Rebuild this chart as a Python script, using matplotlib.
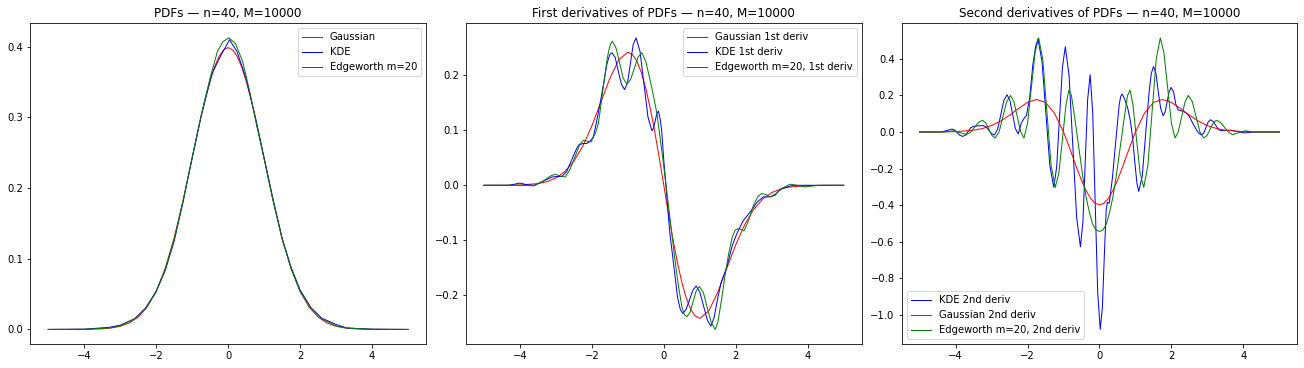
import matplotlib.pyplot as plt

# values
# --- PDFs ---
gauss_x = [-5, -4.5, -4, -3.5, -3.25, -3, -2.75, -2.5, -2.25, -2, -1.75, -1.5, -1.25, -1,
           -0.875, -0.75, -0.625, -0.5, -0.375, -0.25, -0.125, 0,
           0.125, 0.25, 0.375, 0.5, 0.625, 0.75, 0.875, 1,
           1.25, 1.5, 1.75, 2, 2.25, 2.5, 2.75, 3, 3.25, 3.5, 4, 4.5, 5]
gauss_pdf = [0.0, 0.00002, 0.00013, 0.00087, 0.00203, 0.00443, 0.00909, 0.01753, 0.03174, 0.05399,
             0.08628, 0.12952, 0.18265, 0.24197, 0.2720, 0.30114, 0.3282, 0.35207, 0.3718, 0.38667,
             0.3958, 0.39894, 0.3958, 0.38667, 0.3718, 0.35207, 0.3282, 0.30114, 0.2720, 0.24197,
             0.18265, 0.12952, 0.08628, 0.05399, 0.03174, 0.01753, 0.00909, 0.00443, 0.00203,
             0.00087, 0.00013, 0.00002, 0.0]

kde_x = [-5, -4, -3.3, -3.0, -2.6, -2.3, -2.0, -1.75, -1.5, -1.25, -1.0, -0.75, -0.45, -0.2,
         0.04, 0.25, 0.5, 0.75, 1.0, 1.25, 1.5, 1.75, 2.0, 2.3, 2.6, 3.0, 3.3, 4, 5]
kde_pdf = [0.0, 0.0003, 0.003, 0.006, 0.015, 0.030, 0.054, 0.083, 0.125, 0.181, 0.243, 0.302,
           0.362, 0.388, 0.410, 0.393, 0.355, 0.302, 0.243, 0.184, 0.129, 0.088, 0.056, 0.031,
           0.016, 0.007, 0.002, 0.0003, 0.0]

edge_x = [-5, -4, -3.3, -3.0, -2.6, -2.3, -2.0, -1.75, -1.5, -1.25, -1.0, -0.75, -0.5, -0.3,
          -0.15, 0.02, 0.2, 0.4, 0.6, 0.8, 1.0, 1.25, 1.5, 1.75, 2.0, 2.3, 2.6, 3.0, 3.3, 4, 5]
edge_pdf = [0.0, 0.0002, 0.002, 0.005, 0.015, 0.029, 0.053, 0.085, 0.127, 0.183, 0.243, 0.303,
            0.356, 0.393, 0.407, 0.4127, 0.405, 0.380, 0.337, 0.287, 0.242, 0.182, 0.128, 0.086,
            0.054, 0.030, 0.015, 0.005, 0.002, 0.0002, 0.0]

# --- first derivatives ---
gauss_d1 = [0.0, 0.00007, 0.00054, 0.00306, 0.0066, 0.0133, 0.0250, 0.0438, 0.0714, 0.1080,
            0.1510, 0.1943, 0.2283, 0.2420, 0.2377, 0.2259, 0.2051, 0.1760, 0.1394, 0.0967,
            0.0495, 0.0, -0.0495, -0.0967, -0.1394, -0.1760, -0.2051, -0.2259, -0.2377, -0.2420,
            -0.2283, -0.1943, -0.1510, -0.1080, -0.0714, -0.0438, -0.0250, -0.0133, -0.0066,
            -0.00306, -0.00054, -0.00007, 0.0]

kde_d1_x = [-5.0, -4.3, -4.0, -3.8, -3.6, -3.4, -3.11, -2.97, -2.83, -2.7, -2.55, -2.45, -2.37,
            -2.25, -2.14, -2.05, -1.96, -1.87, -1.77, -1.66, -1.58, -1.5, -1.44, -1.35, -1.265,
            -1.175, -1.09, -1.01, -0.93, -0.85, -0.77, -0.66, -0.55, -0.44, -0.33, -0.285, -0.24,
            -0.195, -0.15, -0.1, -0.06, 0.0, 0.06, 0.16, 0.27, 0.38, 0.46, 0.53, 0.62, 0.715,
            0.81, 0.9, 1.0, 1.105, 1.21, 1.31, 1.4, 1.5, 1.6, 1.75, 1.9, 2.03, 2.2, 2.44, 2.6,
            2.77, 2.95, 3.09, 3.23, 3.37, 3.6, 4.0, 5.0]
kde_d1 = [0.0, 0.0, 0.004, 0.001, 0.0, 0.006, 0.015, 0.016, 0.016, 0.025, 0.048, 0.063, 0.073,
          0.076, 0.076, 0.08, 0.088, 0.115, 0.149, 0.19, 0.221, 0.238, 0.241, 0.232, 0.2075,
          0.183, 0.174, 0.186, 0.221, 0.256, 0.268, 0.243, 0.1835, 0.124, 0.099, 0.104, 0.117,
          0.13, 0.135, 0.12, 0.1, 0.045, 0.0, -0.082, -0.142, -0.203, -0.226, -0.233, -0.2255,
          -0.208, -0.1905, -0.183, -0.194, -0.2195, -0.245, -0.256, -0.24, -0.205, -0.175,
          -0.149, -0.11, -0.088, -0.065, -0.045, -0.03, -0.021, -0.021, -0.018, -0.008, -0.004,
          0.0, 0.0, 0.0]

edge_d1_x = [-5, -4, -3.6, -3.3, -3.15, -3.02, -2.88, -2.74, -2.6, -2.45, -2.33, -2.23, -2.12,
             -2.02, -1.9, -1.82, -1.77, -1.72, -1.68, -1.63, -1.58, -1.53, -1.48, -1.43, -1.33,
             -1.23, -1.13, -1.03, -0.925, -0.82, -0.715, -0.61, -0.5, -0.38, -0.28, -0.19, -0.1,
             -0.01, 0.1, 0.2, 0.3, 0.4, 0.5, 0.57, 0.64, 0.73, 0.815, 0.9, 0.99, 1.1, 1.21, 1.32,
             1.43, 1.5, 1.6, 1.7, 1.8, 1.9, 1.98, 2.05, 2.14, 2.23, 2.35, 2.5, 2.62, 2.72, 2.85,
             2.95, 3.1, 3.3, 3.51, 3.7, 3.9, 4.3, 5]
edge_d1 = [0.0, 0.0, -0.001, 0.01, 0.017, 0.02, 0.017, 0.015, 0.03, 0.055, 0.075, 0.082, 0.08,
           0.079, 0.095, 0.112, 0.135, 0.16, 0.18, 0.203, 0.228, 0.245, 0.257, 0.262, 0.25,
           0.223, 0.195, 0.184, 0.192, 0.2125, 0.233, 0.241, 0.225, 0.191, 0.16, 0.13, 0.085,
           0.039, -0.021, -0.075, -0.13, -0.18, -0.22, -0.235, -0.239, -0.231, -0.2115, -0.192,
           -0.184, -0.195, -0.223, -0.25, -0.262, -0.25, -0.21, -0.165, -0.125, -0.095, -0.082,
           -0.079, -0.08, -0.083, -0.065, -0.035, -0.02, -0.015, -0.017, -0.021, -0.016, -0.005,
           0.002, 0.0, -0.003, 0.0, 0.0]

# --- second derivatives ---
gauss_d2 = [0.00004, 0.0003, 0.0020, 0.0098, 0.0194, 0.0354, 0.0597, 0.0920, 0.1290, 0.1620,
            0.1780, 0.1619, 0.1027, 0.0, -0.0638, -0.1317, -0.2000, -0.2641, -0.3195, -0.3625,
            -0.3896, -0.3989, -0.3896, -0.3625, -0.3195, -0.2641, -0.2000, -0.1317, -0.0638, 0.0,
            0.1027, 0.1619, 0.1780, 0.1620, 0.1290, 0.0920, 0.0597, 0.0354, 0.0194, 0.0098,
            0.0020, 0.0003, 0.00004]

kde_d2_x = [-5.0, -4.4, -4.25, -4.1, -4.02, -3.95, -3.88, -3.8, -3.72, -3.65, -3.58, -3.5,
            -3.36, -3.23, -3.15, -3.075, -3.0, -2.92, -2.83, -2.745, -2.66, -2.57, -2.49, -2.415,
            -2.34, -2.26, -2.17, -2.08, -2.03, -1.94, -1.85, -1.77, -1.71, -1.6, -1.49, -1.38,
            -1.27, -1.19, -1.11, -1.03, -0.95, -0.845, -0.74, -0.635, -0.53, -0.46, -0.395,
            -0.33, -0.26, -0.19, -0.12, -0.05, 0.02, 0.08, 0.13, 0.185, 0.22, 0.27, 0.31, 0.36,
            0.42, 0.49, 0.55, 0.59, 0.63, 0.7, 0.78, 0.86, 0.92, 0.98, 1.04, 1.09, 1.19, 1.29,
            1.38, 1.44, 1.5, 1.57, 1.635, 1.7, 1.77, 1.825, 1.88, 1.935, 1.99, 2.06, 2.12, 2.19,
            2.26, 2.33, 2.4, 2.5, 2.6, 2.7, 2.77, 2.83, 2.9, 2.96, 3.02, 3.09, 3.16, 3.23, 3.3,
            3.37, 3.65, 4.02, 4.3, 5.0]
kde_d2 = [0.0, 0.0, 0.008, 0.016, 0.010, -0.004, -0.018, -0.024, -0.016, 0.0035, 0.023, 0.031,
          0.034, 0.035, 0.028, 0.0095, -0.009, -0.016, 0.016, 0.094, 0.172, 0.204, 0.173, 0.0965,
          0.02, -0.011, 0.05, 0.08, 0.09, 0.19, 0.372, 0.473, 0.509, 0.39, 0.103, -0.184,
          -0.303, -0.19, 0.082, 0.354, 0.467, 0.307, -0.08, -0.468, -0.628, -0.49, -0.157,
          0.176, 0.314, 0.11, -0.383, -0.876, -1.08, -0.96, -0.7, -0.43, -0.385, -0.39, -0.33,
          -0.25, -0.12, 0.03, 0.153, 0.195, 0.208, 0.18, 0.135, 0.06, -0.03, -0.16, -0.28,
          -0.325, -0.24, 0.007, 0.22, 0.32, 0.358, 0.32, 0.22, 0.13, 0.089, 0.11, 0.165, 0.22,
          0.244, 0.22, 0.153, 0.12, 0.117, 0.112, 0.105, 0.085, 0.045, 0.01, -0.008, -0.016,
          -0.005, 0.025, 0.055, 0.067, 0.058, 0.037, 0.016, 0.007, 0.01, -0.005, 0.0, 0.0]

edge_d2_x = [-5, -4.3, -4.05, -3.875, -3.7, -3.59, -3.475, -3.36, -3.25, -3.16, -3.075, -2.99,
             -2.9, -2.79, -2.685, -2.58, -2.47, -2.38, -2.285, -2.19, -2.1, -2.0, -1.895, -1.79,
             -1.69, -1.575, -1.46, -1.345, -1.23, -1.13, -1.03, -0.93, -0.85, -0.78, -0.69,
             -0.62, -0.55, -0.46, -0.37, -0.28, -0.19, -0.1, 0,
             0.1, 0.19, 0.28, 0.37, 0.46, 0.55, 0.62, 0.69, 0.78, 0.85, 0.93, 1.03, 1.13, 1.23,
             1.345, 1.46, 1.575, 1.69, 1.79, 1.895, 2.0, 2.1, 2.19, 2.285, 2.38, 2.47, 2.58,
             2.685, 2.79, 2.9, 2.99, 3.075, 3.16, 3.25, 3.36, 3.475, 3.59, 3.7, 3.875, 4.05, 4.3, 5]
edge_d2 = [0.0, 0.0, 0.007, -0.0035, -0.014, -0.003, 0.025, 0.053, 0.064, 0.05, 0.0155, -0.019,
           -0.033, 0.001, 0.0835, 0.166, 0.2, 0.166, 0.0835, 0.001, -0.033, 0.047, 0.241, 0.435,
           0.515, 0.395, 0.106, -0.183, -0.303, -0.225, -0.04, 0.15, 0.23, 0.2, 0.08, -0.02,
           -0.12, -0.25, -0.358, -0.44, -0.504, -0.535, -0.544,
           -0.535, -0.504, -0.44, -0.358, -0.25, -0.12, -0.02, 0.08, 0.2, 0.23, 0.15, -0.04,
           -0.225, -0.303, -0.183, 0.106, 0.395, 0.515, 0.435, 0.241, 0.047, -0.033, 0.001,
           0.0835, 0.166, 0.2, 0.166, 0.0835, 0.001, -0.033, -0.019, 0.0155, 0.05, 0.064, 0.053,
           0.025, -0.003, -0.014, -0.0035, 0.007, 0.0, 0.0]

fig, axes = plt.subplots(1, 3, figsize=(1304 / 72, 368 / 72), dpi=72)
plt.subplots_adjust(left=0.0232, right=0.9949, bottom=0.0652, top=0.9367, wspace=0.101)
lw = 1.0

ax = axes[0]
ax.plot(gauss_x, gauss_pdf, 'r', lw=lw, label='Gaussian')
ax.plot(kde_x, kde_pdf, 'b', lw=lw, label='KDE')
ax.plot(edge_x, edge_pdf, 'g', lw=lw, label='Edgeworth m=20')
ax.set_title('PDFs \u2014 n=40, M=10000')
ax.legend(loc='upper right')

ax = axes[1]
ax.plot(gauss_x, gauss_d1, 'r', lw=lw, label='Gaussian 1st deriv')
ax.plot(kde_d1_x, kde_d1, 'b', lw=lw, label='KDE 1st deriv')
ax.plot(edge_d1_x, edge_d1, 'g', lw=lw, label='Edgeworth m=20, 1st deriv')
ax.set_title('First derivatives of PDFs \u2014 n=40, M=10000')
ax.legend(loc='upper right')

ax = axes[2]
ax.plot(kde_d2_x, kde_d2, 'b', lw=lw, label='KDE 2nd deriv')
ax.plot(gauss_x, gauss_d2, 'r', lw=lw, label='Gaussian 2nd deriv')
ax.plot(edge_d2_x, edge_d2, 'g', lw=lw, label='Edgeworth m=20, 2nd deriv')
ax.set_title('Second derivatives of PDFs \u2014 n=40, M=10000')
ax.legend(loc='lower left')

fig.savefig('out.png', dpi=72)
